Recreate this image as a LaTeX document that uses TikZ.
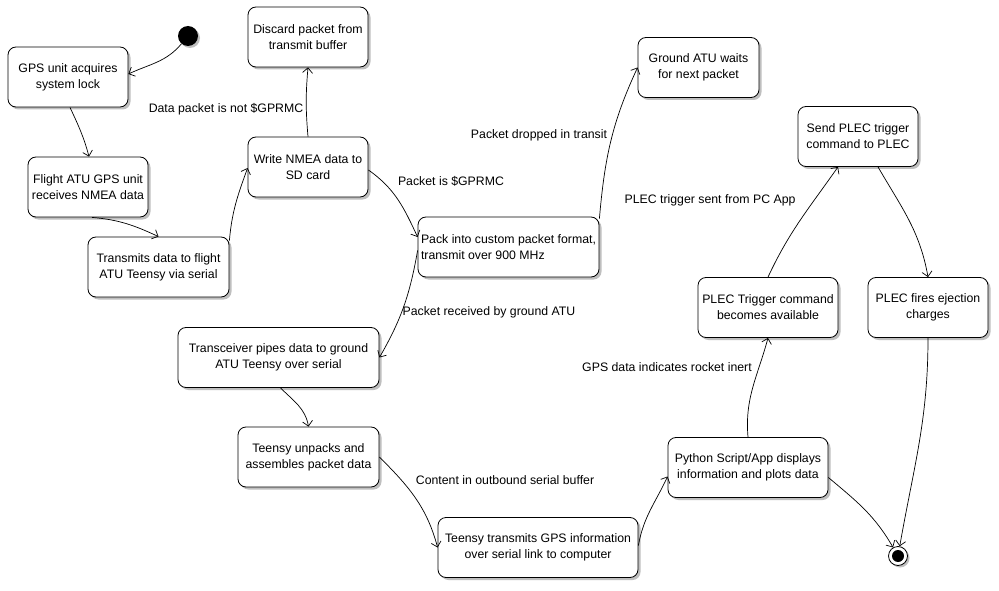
\documentclass[tikz,border=0pt]{standalone}
\usepackage{fontspec}
\setmainfont{Liberation Sans}
\usetikzlibrary{arrows.meta,shadows}
\begin{document}
\begin{tikzpicture}[x=1pt,y=1pt,
 box/.style={draw,line width=0.8pt,rounded corners=8pt,fill=white,minimum height=60pt,align=center,inner sep=2pt,font=\fontsize{12.3}{16}\selectfont,drop shadow={shadow xshift=2.5pt,shadow yshift=-2.5pt,fill=black!25,opacity=1}},
 lbl/.style={font=\fontsize{12.3}{16}\selectfont,inner sep=0pt},
 flow/.style={line width=0.7pt,-{Straight Barb[length=5pt,width=10pt,line width=0.7pt]}}]
\useasboundingbox[fill=white] (0,0) rectangle (999,-591);
% nodes
\node[circle,fill=black,minimum size=20pt,inner sep=0pt,drop shadow={shadow xshift=2pt,shadow yshift=-2pt,fill=black!25,opacity=1}] (init) at (188,-36) {};
\node[box,minimum width=120pt] (gps) at (68,-77) {GPS unit acquires\\system lock};
\node[box,minimum width=120pt] (flight) at (88,-187) {Flight ATU GPS unit\\receives NMEA data};
\node[box,minimum width=141pt] (trans) at (158.5,-267) {Transmits data to flight\\ATU Teensy via serial};
\node[box,minimum width=120pt] (write) at (308,-167) {Write NMEA data to\\SD card};
\node[box,minimum width=120pt] (discard) at (308,-37) {Discard packet from\\transmit buffer};
\node[box,minimum width=181pt,align=left] (pack) at (508.5,-247) {Pack into custom packet format,\\transmit over 900 MHz};
\node[box,minimum width=121pt] (ground) at (698.5,-67.5) {Ground ATU waits\\for next packet};
\node[box,minimum width=201pt] (transceiver) at (278.5,-357.5) {Transceiver pipes data to ground\\ATU Teensy over serial};
\node[box,minimum width=141pt] (unpacks) at (308.5,-457) {Teensy unpacks and\\assembles packet data};
\node[box,minimum width=200pt] (transmits) at (538,-547.5) {Teensy transmits GPS information\\over serial link to computer};
\node[box,minimum width=160pt] (python) at (748,-467.5) {Python Script/App displays\\information and plots data};
\node[box,minimum width=140pt] (plectrig) at (768,-307.5) {PLEC Trigger command\\becomes available};
\node[box,minimum width=120pt] (send) at (858,-136.5) {Send PLEC trigger\\command to PLEC};
\node[box,minimum width=120pt] (fires) at (928,-307.5) {PLEC fires ejection\\charges};
\node[circle,draw,line width=0.8pt,fill=white,minimum size=19pt,inner sep=0pt,drop shadow={shadow xshift=2pt,shadow yshift=-2pt,fill=black!25,opacity=1}] (final) at (898,-556) {};
\node[circle,fill=black,minimum size=12pt,inner sep=0pt] (finaldot) at (final.center) {};
% labels
\node[lbl] (l1) at (226,-109) {Data packet is not \$GPRMC};
\node[lbl] (l2) at (451,-181) {Packet is \$GPRMC};
\node[lbl] (l3) at (539,-135) {Packet dropped in transit};
\node[lbl] (l4) at (489,-312) {Packet received by ground ATU};
\node[lbl] (l5) at (505,-480) {Content in outbound serial buffer};
\node[lbl] (l6) at (667,-367) {GPS data indicates rocket inert};
\node[lbl] (l7) at (710,-200) {PLEC trigger sent from PC App};
% edges
\draw[flow] (init) to[out=-130,in=25] ([yshift=3pt]gps.east);
\draw[flow] ([xshift=2pt]gps.south) to[out=-65,in=105] ([xshift=1pt]flight.north);
\draw[flow] ([xshift=4pt]flight.south) to[out=-5,in=155] (trans.north);
\draw[flow] ([yshift=26.5pt]trans.east) to[out=85,in=-110] ([yshift=-1pt]write.west);
\draw[flow] (write.north) to[out=95,in=-95] (discard.south);
\draw[flow] ([yshift=-3pt]write.east) to[out=-35,in=115] ([yshift=10pt]pack.west);
\draw[flow] ([yshift=28.5pt]pack.east) to[out=85,in=-115] (ground.west);
\draw[flow] ([yshift=-3.5pt]pack.west) to[out=-100,in=60] (transceiver.east);
\draw[flow] ([xshift=2pt]transceiver.south) to[out=-45,in=100] (unpacks.north);
\draw[flow] (unpacks.east) to[out=-45,in=105] (transmits.west);
\draw[flow] ([yshift=2pt]transmits.east) to[out=80,in=-115] ([yshift=-9pt]python.west);
\draw[flow] (python.north) to[out=95,in=-105] (plectrig.south);
\draw[flow] (plectrig.north) to[out=65,in=-125] ([xshift=-20pt]send.south);
\draw[flow] ([xshift=20pt]send.south) to[out=-60,in=100] (fires.north);
\draw[flow] (fires.south) to[out=-90,in=80] (final);
\draw[flow] ([yshift=-10pt]python.east) to[out=-40,in=120] (final);
\end{tikzpicture}
\end{document}
